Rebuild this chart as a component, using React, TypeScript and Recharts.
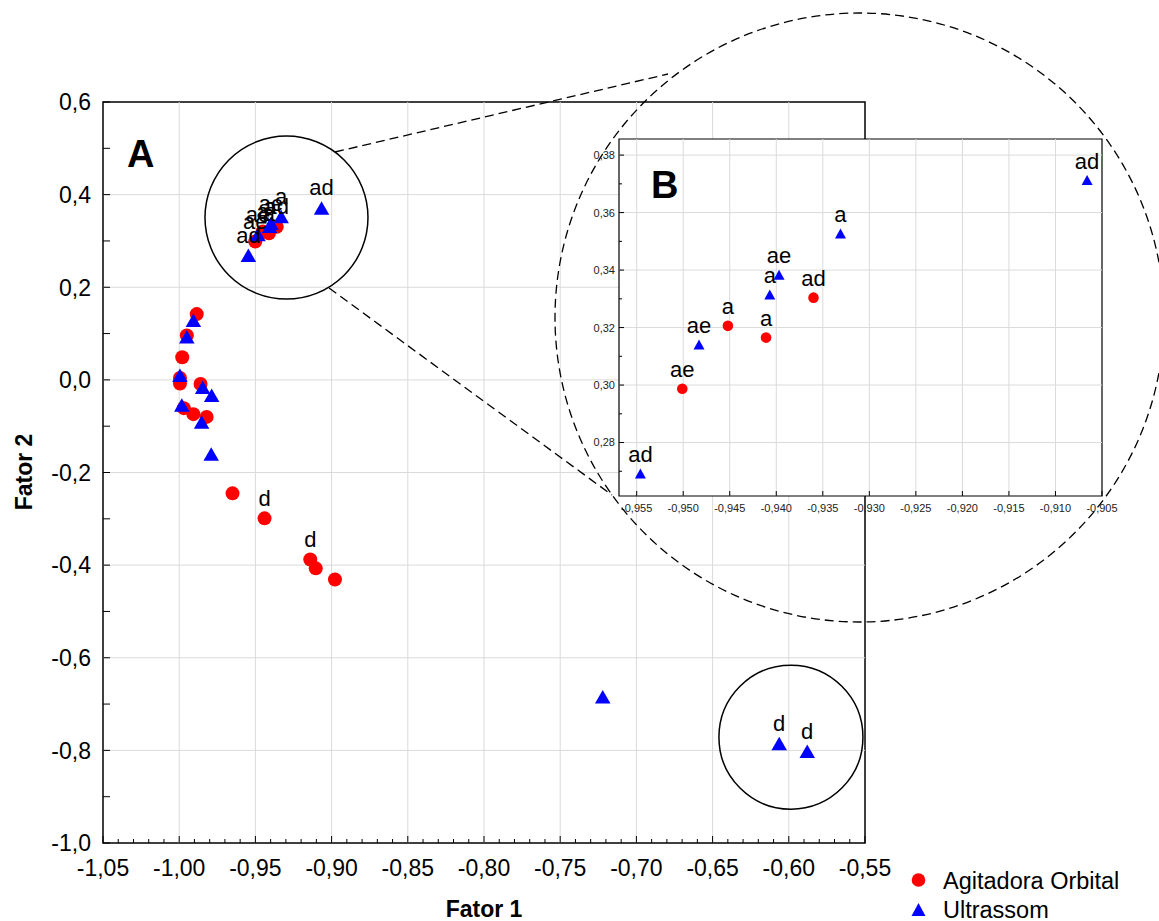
import React from 'react';
import {
  ScatterChart,
  Scatter,
  XAxis,
  YAxis,
  ReferenceLine,
  ReferenceArea,
  ReferenceDot,
  LabelList,
  Legend,
} from 'recharts';

const FONT = "'Liberation Sans', Arial, Helvetica, sans-serif";
const RED = '#ff0000';
const BLUE = '#0000ff';
const GRID = '#dadada';

// Agitadora Orbital: Fator 1, Fator 2 and the letter shown above each point
const orbitalF1 = [
  -0.9885, -0.995, -0.998, -0.9995, -0.9995, -0.986, -0.997, -0.9907, -0.982,
  -0.965, -0.944, -0.914, -0.9104, -0.8978,
  -0.9501, -0.9452, -0.9411, -0.936,
];
const orbitalF2 = [
  0.142, 0.096, 0.049, 0.004, -0.008, -0.009, -0.061, -0.074, -0.08,
  -0.245, -0.299, -0.388, -0.407, -0.431,
  0.2987, 0.3206, 0.3165, 0.3304,
];
const orbitalTags = [
  null, null, null, null, null, null, null, null, null,
  null, 'd', 'd', null, null,
  'ae', 'a', 'a', 'ad',
];

// Ultrassom
const ultraF1 = [
  -0.9907, -0.995, -0.9995, -0.9846, -0.9787, -0.9983, -0.9853, -0.979,
  -0.7221, -0.6063, -0.5879,
  -0.9546, -0.9483, -0.9407, -0.9397, -0.9331, -0.9066,
];
const ultraF2 = [
  0.129, 0.093, 0.01, -0.016, -0.033, -0.054, -0.091, -0.16,
  -0.684, -0.785, -0.802,
  0.2692, 0.3141, 0.3315, 0.3384, 0.3527, 0.3713,
];
const ultraTags = [
  null, null, null, null, null, null, null, null,
  null, 'd', 'd',
  'ad', 'ae', 'a', 'ae', 'a', 'ad',
];

const seriesNames = ['Agitadora Orbital', 'Ultrassom'];

// axes of the main panel (A)
const mainXDomain = [-1.05, -0.55];
const mainYDomain = [-1.0, 0.6];
const mainXLabels = [-1.05, -1.0, -0.95, -0.9, -0.85, -0.8, -0.75, -0.7, -0.65, -0.6, -0.55];
const mainYLabels = [-1.0, -0.8, -0.6, -0.4, -0.2, 0.0, 0.2, 0.4, 0.6];

// axes of the zoomed panel (B)
const insetXDomain = [-0.9569, -0.905];
const insetYDomain = [0.2614, 0.3856];
const insetXLabels = [-0.955, -0.95, -0.945, -0.94, -0.935, -0.93, -0.925, -0.92, -0.915, -0.91, -0.905];
const insetYLabels = [0.28, 0.3, 0.32, 0.34, 0.36, 0.38];

const range = (from: number, to: number, step: number) => {
  const out: number[] = [];
  const n = Math.round((to - from) / step);
  for (let i = 0; i <= n; i++) out.push(Number((from + i * step).toFixed(4)));
  return out;
};
const isIn = (list: number[], v: number) => list.some((m) => Math.abs(m - v) < 1e-6);
const comma = (digits: number) => (v: number) => v.toFixed(digits).replace('.', ',');

const mainXTicks = range(-1.05, -0.55, 0.01);
const mainYTicks = range(-1.0, 0.6, 0.1);
const insetXTicks = insetXLabels;
const insetYTicks = range(0.27, 0.38, 0.01);

const toPoints = (xs: number[], ys: number[], tags: (string | null)[]) =>
  xs.map((x, i) => ({ x, y: ys[i], tag: tags[i] }));

const orbital = toPoints(orbitalF1, orbitalF2, orbitalTags);
const ultra = toPoints(ultraF1, ultraF2, ultraTags);

const inInset = (p: { x: number; y: number }) =>
  p.x >= insetXDomain[0] && p.x <= insetXDomain[1] && p.y >= insetYDomain[0] && p.y <= insetYDomain[1];
const orbitalZoom = orbital.filter(inInset);
const ultraZoom = ultra.filter(inInset);

type Side = 'bottom' | 'top' | 'left' | 'right';
type TickCfg = {
  side: Side;
  majors: number[];
  major: number;
  minor: number;
  fmt?: (v: number) => string;
  fontSize?: number;
  gap?: number;
  color?: string;
};

// ticks point into the plot, labels sit outside
const makeTick = (cfg: TickCfg) => (props: any) => {
  const { x, y, payload } = props;
  const v = payload.value;
  const big = isIn(cfg.majors, v);
  const len = big ? cfg.major : cfg.minor;
  const d =
    cfg.side === 'bottom' ? [0, -1] : cfg.side === 'top' ? [0, 1] : cfg.side === 'left' ? [1, 0] : [-1, 0];
  const txt = big && cfg.fmt ? cfg.fmt(v) : null;
  const common = { fontSize: cfg.fontSize, fontFamily: FONT, fill: cfg.color || '#000' };
  return (
    <g>
      <line x1={x} y1={y} x2={x + d[0] * len} y2={y + d[1] * len} stroke="#000" strokeWidth={1} />
      {txt && cfg.side === 'bottom' && (
        <text x={x} y={y + (cfg.gap || 0)} textAnchor="middle" {...common}>
          {txt}
        </text>
      )}
      {txt && cfg.side === 'left' && (
        <text x={x - (cfg.gap || 0)} y={y} dy="0.36em" textAnchor="end" {...common}>
          {txt}
        </text>
      )}
    </g>
  );
};

const dot = (r: number) => (p: any) => <circle cx={p.cx} cy={p.cy} r={r} fill={RED} />;
const tri = (w: number, h: number) => (p: any) => (
  <polygon
    points={`${p.cx},${p.cy - h / 2} ${p.cx - w / 2},${p.cy + h / 2} ${p.cx + w / 2},${p.cy + h / 2}`}
    fill={BLUE}
  />
);

const hiddenAxis = { tickLine: false, axisLine: false, tickSize: 0, tickMargin: 0, interval: 0 as const };

const renderLegend = () => (
  <svg width={240} height={56} style={{ display: 'block' }}>
    <circle cx={13.5} cy={16} r={6.8} fill={RED} />
    <text x={38} y={25} fontSize={23.5} fontFamily={FONT} fill="#000">
      {seriesNames[0]}
    </text>
    <polygon points="13.5,39 6.5,52 20.5,52" fill={BLUE} />
    <text x={38} y={53.5} fontSize={23.5} fontFamily={FONT} fill="#000">
      {seriesNames[1]}
    </text>
  </svg>
);

function MainPanel() {
  return (
    <ScatterChart width={1159} height={921} margin={{ top: 102, right: 294, bottom: 0, left: 0 }}>
      {mainXLabels.slice(1, -1).map((v) => (
        <ReferenceLine key={`gx${v}`} x={v} stroke={GRID} strokeWidth={1} />
      ))}
      {mainYLabels.slice(1, -1).map((v) => (
        <ReferenceLine key={`gy${v}`} y={v} stroke={GRID} strokeWidth={1} />
      ))}
      <ReferenceArea
        x1={mainXDomain[0]}
        x2={mainXDomain[1]}
        y1={mainYDomain[0]}
        y2={mainYDomain[1]}
        fill="none"
        stroke="#000"
        strokeWidth={1.5}
      />
      <XAxis
        dataKey="x"
        type="number"
        domain={mainXDomain}
        ticks={mainXTicks}
        height={78}
        {...hiddenAxis}
        tick={makeTick({ side: 'bottom', majors: mainXLabels, major: 7, minor: 4, fmt: comma(2), fontSize: 23, gap: 33 })}
        label={{
          value: 'Fator 1',
          position: 'insideBottom',
          offset: 4,
          fill: '#000',
          fontSize: 23,
          fontWeight: 'bold',
          fontFamily: FONT,
        }}
      />
      <XAxis
        xAxisId="top"
        orientation="top"
        type="number"
        domain={mainXDomain}
        ticks={mainXTicks}
        height={0}
        {...hiddenAxis}
        tick={makeTick({ side: 'top', majors: mainXLabels, major: 7, minor: 4 })}
      />
      <YAxis
        dataKey="y"
        type="number"
        domain={mainYDomain}
        ticks={mainYTicks}
        width={103}
        {...hiddenAxis}
        tick={makeTick({ side: 'left', majors: mainYLabels, major: 7, minor: 7, fmt: comma(1), fontSize: 23, gap: 12 })}
        label={{
          content: () => (
            <text
              transform="translate(32,472) rotate(-90)"
              textAnchor="middle"
              fontSize={23}
              fontWeight="bold"
              fontFamily={FONT}
              fill="#000"
            >
              Fator 2
            </text>
          ),
        }}
      />
      <YAxis
        yAxisId="right"
        orientation="right"
        type="number"
        domain={mainYDomain}
        ticks={mainYTicks}
        width={0}
        {...hiddenAxis}
        tick={makeTick({ side: 'right', majors: mainYLabels, major: 7, minor: 7 })}
      />
      <ReferenceDot x={-0.9296} y={0.3505} r={81.5} fill="none" stroke="#000" strokeWidth={1.5} ifOverflow="visible" />
      <ReferenceDot x={-0.5986} y={-0.7715} r={72} fill="none" stroke="#000" strokeWidth={1.5} ifOverflow="visible" />
      <Scatter name={seriesNames[0]} data={orbital} fill={RED} shape={dot(7)} isAnimationActive={false}>
        <LabelList dataKey="tag" position="top" offset={8} fill="#000" fontSize={22} fontFamily={FONT} />
      </Scatter>
      <Scatter name={seriesNames[1]} data={ultra} fill={BLUE} shape={tri(15.5, 13.5)} isAnimationActive={false}>
        <LabelList dataKey="tag" position="top" offset={8} fill="#000" fontSize={22} fontFamily={FONT} />
      </Scatter>
      <Legend
        layout="horizontal"
        verticalAlign="middle"
        align="center"
        content={renderLegend}
        wrapperStyle={{ position: 'absolute', left: 905, top: 864, width: 240, height: 56 }}
      />
    </ScatterChart>
  );
}

function ZoomPanel() {
  return (
    <ScatterChart width={560} height={420} margin={{ top: 19, right: 18, bottom: 0, left: 0 }}>
      {insetXLabels.slice(0, -1).map((v) => (
        <ReferenceLine key={`gx${v}`} x={v} stroke={GRID} strokeWidth={1} />
      ))}
      {insetYLabels.map((v) => (
        <ReferenceLine key={`gy${v}`} y={v} stroke={GRID} strokeWidth={1} />
      ))}
      <ReferenceArea
        x1={insetXDomain[0]}
        x2={insetXDomain[1]}
        y1={insetYDomain[0]}
        y2={insetYDomain[1]}
        fill="none"
        stroke="#000"
        strokeWidth={1.2}
      />
      <XAxis
        dataKey="x"
        type="number"
        domain={insetXDomain}
        ticks={insetXTicks}
        height={44}
        {...hiddenAxis}
        tick={makeTick({ side: 'bottom', majors: insetXLabels, major: 5, minor: 3, fmt: comma(3), fontSize: 11, gap: 16, color: '#222' })}
      />
      <XAxis
        xAxisId="top"
        orientation="top"
        type="number"
        domain={insetXDomain}
        ticks={insetXTicks}
        height={0}
        {...hiddenAxis}
        tick={makeTick({ side: 'top', majors: insetXLabels, major: 5, minor: 3 })}
      />
      <YAxis
        dataKey="y"
        type="number"
        domain={insetYDomain}
        ticks={insetYTicks}
        width={59}
        {...hiddenAxis}
        tick={makeTick({ side: 'left', majors: insetYLabels, major: 5, minor: 3, fmt: comma(2), fontSize: 11, gap: 4, color: '#222' })}
      />
      <YAxis
        yAxisId="right"
        orientation="right"
        type="number"
        domain={insetYDomain}
        ticks={insetYTicks}
        width={0}
        {...hiddenAxis}
        tick={makeTick({ side: 'right', majors: insetYLabels, major: 5, minor: 3 })}
      />
      <Scatter name={seriesNames[0]} data={orbitalZoom} fill={RED} shape={dot(5.3)} isAnimationActive={false}>
        <LabelList dataKey="tag" position="top" offset={7} fill="#000" fontSize={22} fontFamily={FONT} />
      </Scatter>
      <Scatter name={seriesNames[1]} data={ultraZoom} fill={BLUE} shape={tri(11, 10)} isAnimationActive={false}>
        <LabelList dataKey="tag" position="top" offset={7} fill="#000" fontSize={22} fontFamily={FONT} />
      </Scatter>
    </ScatterChart>
  );
}

export default function App() {
  return (
    <div
      style={{
        position: 'absolute',
        left: 0,
        top: 0,
        width: 1159,
        height: 921,
        background: '#fff',
        overflow: 'hidden',
        fontFamily: FONT,
      }}
    >
      <div style={{ position: 'absolute', left: 0, top: 0 }}>
        <MainPanel />
      </div>
      {/* white plot area of panel B hides the grid of panel A */}
      <div style={{ position: 'absolute', left: 619, top: 139, width: 483, height: 357, background: '#fff' }} />
      <div style={{ position: 'absolute', left: 560, top: 120 }}>
        <ZoomPanel />
      </div>
      {/* zoom connector and panel letters */}
      <svg
        width={1159}
        height={921}
        style={{ position: 'absolute', left: 0, top: 0, pointerEvents: 'none' }}
      >
        <g fill="none" stroke="#000" strokeWidth={1.3} strokeDasharray="9 5">
          <circle cx={859.5} cy={317.5} r={304.5} />
          <line x1={335} y1={152} x2={668} y2={74} />
          <line x1={329} y1={288} x2={612} y2={495} />
        </g>
        <text x={127} y={167} fontSize={38} fontWeight="bold" fontFamily={FONT} fill="#000">
          A
        </text>
        <text x={651} y={198} fontSize={38} fontWeight="bold" fontFamily={FONT} fill="#000">
          B
        </text>
      </svg>
    </div>
  );
}
